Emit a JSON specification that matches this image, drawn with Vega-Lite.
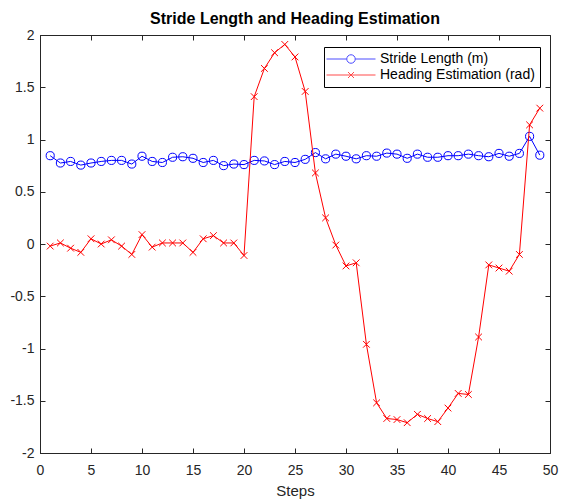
{
  "$schema": "https://vega.github.io/schema/vega-lite/v6.json",
  "width": 510,
  "height": 418,
  "autosize": {"type": "none"},
  "padding": {"left": 40, "top": 35, "right": 13, "bottom": 47},
  "background": "white",
  "title": {"text": "Stride Length and Heading Estimation", "font": "Liberation Sans", "fontSize": 16, "fontWeight": "bold", "color": "#000000", "anchor": "middle", "offset": 1},
  "config": {
    "locale": {"number": {"decimal": ".", "thousands": ",", "grouping": [3], "currency": ["$", ""], "minus": "-"}},
    "view": {"stroke": "#262626", "strokeWidth": 1},
    "axis": {"grid": false, "labelFont": "Liberation Sans", "labelFontSize": 14, "labelColor": "#262626", "tickColor": "#262626", "domainColor": "#262626", "tickSize": -5, "titleFont": "Liberation Sans", "titleFontSize": 15, "titleColor": "#262626", "titleFontWeight": "normal", "format": "~g"},
    "legend": {"labelFont": "Liberation Sans", "labelFontSize": 14, "labelColor": "#000000"}
  },
  "datasets": {
    "d": [
      {"step": 1, "series": "Stride Length (m)", "value": 0.845},
      {"step": 2, "series": "Stride Length (m)", "value": 0.775},
      {"step": 3, "series": "Stride Length (m)", "value": 0.79},
      {"step": 4, "series": "Stride Length (m)", "value": 0.755},
      {"step": 5, "series": "Stride Length (m)", "value": 0.775},
      {"step": 6, "series": "Stride Length (m)", "value": 0.79},
      {"step": 7, "series": "Stride Length (m)", "value": 0.80},
      {"step": 8, "series": "Stride Length (m)", "value": 0.80},
      {"step": 9, "series": "Stride Length (m)", "value": 0.765},
      {"step": 10, "series": "Stride Length (m)", "value": 0.84},
      {"step": 11, "series": "Stride Length (m)", "value": 0.79},
      {"step": 12, "series": "Stride Length (m)", "value": 0.78},
      {"step": 13, "series": "Stride Length (m)", "value": 0.83},
      {"step": 14, "series": "Stride Length (m)", "value": 0.835},
      {"step": 15, "series": "Stride Length (m)", "value": 0.82},
      {"step": 16, "series": "Stride Length (m)", "value": 0.78},
      {"step": 17, "series": "Stride Length (m)", "value": 0.80},
      {"step": 18, "series": "Stride Length (m)", "value": 0.75},
      {"step": 19, "series": "Stride Length (m)", "value": 0.765},
      {"step": 20, "series": "Stride Length (m)", "value": 0.76},
      {"step": 21, "series": "Stride Length (m)", "value": 0.80},
      {"step": 22, "series": "Stride Length (m)", "value": 0.795},
      {"step": 23, "series": "Stride Length (m)", "value": 0.76},
      {"step": 24, "series": "Stride Length (m)", "value": 0.79},
      {"step": 25, "series": "Stride Length (m)", "value": 0.78},
      {"step": 26, "series": "Stride Length (m)", "value": 0.81},
      {"step": 27, "series": "Stride Length (m)", "value": 0.875},
      {"step": 28, "series": "Stride Length (m)", "value": 0.815},
      {"step": 29, "series": "Stride Length (m)", "value": 0.86},
      {"step": 30, "series": "Stride Length (m)", "value": 0.84},
      {"step": 31, "series": "Stride Length (m)", "value": 0.815},
      {"step": 32, "series": "Stride Length (m)", "value": 0.845},
      {"step": 33, "series": "Stride Length (m)", "value": 0.84},
      {"step": 34, "series": "Stride Length (m)", "value": 0.87},
      {"step": 35, "series": "Stride Length (m)", "value": 0.86},
      {"step": 36, "series": "Stride Length (m)", "value": 0.82},
      {"step": 37, "series": "Stride Length (m)", "value": 0.86},
      {"step": 38, "series": "Stride Length (m)", "value": 0.83},
      {"step": 39, "series": "Stride Length (m)", "value": 0.83},
      {"step": 40, "series": "Stride Length (m)", "value": 0.845},
      {"step": 41, "series": "Stride Length (m)", "value": 0.845},
      {"step": 42, "series": "Stride Length (m)", "value": 0.86},
      {"step": 43, "series": "Stride Length (m)", "value": 0.845},
      {"step": 44, "series": "Stride Length (m)", "value": 0.835},
      {"step": 45, "series": "Stride Length (m)", "value": 0.867},
      {"step": 46, "series": "Stride Length (m)", "value": 0.84},
      {"step": 47, "series": "Stride Length (m)", "value": 0.867},
      {"step": 48, "series": "Stride Length (m)", "value": 1.03},
      {"step": 49, "series": "Stride Length (m)", "value": 0.85},
      {"step": 1, "series": "Heading Estimation (rad)", "value": -0.02},
      {"step": 2, "series": "Heading Estimation (rad)", "value": 0.01},
      {"step": 3, "series": "Heading Estimation (rad)", "value": -0.04},
      {"step": 4, "series": "Heading Estimation (rad)", "value": -0.08},
      {"step": 5, "series": "Heading Estimation (rad)", "value": 0.05},
      {"step": 6, "series": "Heading Estimation (rad)", "value": 0.0},
      {"step": 7, "series": "Heading Estimation (rad)", "value": 0.04},
      {"step": 8, "series": "Heading Estimation (rad)", "value": -0.02},
      {"step": 9, "series": "Heading Estimation (rad)", "value": -0.10},
      {"step": 10, "series": "Heading Estimation (rad)", "value": 0.09},
      {"step": 11, "series": "Heading Estimation (rad)", "value": -0.03},
      {"step": 12, "series": "Heading Estimation (rad)", "value": 0.01},
      {"step": 13, "series": "Heading Estimation (rad)", "value": 0.01},
      {"step": 14, "series": "Heading Estimation (rad)", "value": 0.01},
      {"step": 15, "series": "Heading Estimation (rad)", "value": -0.08},
      {"step": 16, "series": "Heading Estimation (rad)", "value": 0.05},
      {"step": 17, "series": "Heading Estimation (rad)", "value": 0.08},
      {"step": 18, "series": "Heading Estimation (rad)", "value": 0.01},
      {"step": 19, "series": "Heading Estimation (rad)", "value": 0.01},
      {"step": 20, "series": "Heading Estimation (rad)", "value": -0.11},
      {"step": 21, "series": "Heading Estimation (rad)", "value": 1.41},
      {"step": 22, "series": "Heading Estimation (rad)", "value": 1.68},
      {"step": 23, "series": "Heading Estimation (rad)", "value": 1.83},
      {"step": 24, "series": "Heading Estimation (rad)", "value": 1.91},
      {"step": 25, "series": "Heading Estimation (rad)", "value": 1.79},
      {"step": 26, "series": "Heading Estimation (rad)", "value": 1.46},
      {"step": 27, "series": "Heading Estimation (rad)", "value": 0.68},
      {"step": 28, "series": "Heading Estimation (rad)", "value": 0.25},
      {"step": 29, "series": "Heading Estimation (rad)", "value": -0.01},
      {"step": 30, "series": "Heading Estimation (rad)", "value": -0.21},
      {"step": 31, "series": "Heading Estimation (rad)", "value": -0.18},
      {"step": 32, "series": "Heading Estimation (rad)", "value": -0.96},
      {"step": 33, "series": "Heading Estimation (rad)", "value": -1.52},
      {"step": 34, "series": "Heading Estimation (rad)", "value": -1.67},
      {"step": 35, "series": "Heading Estimation (rad)", "value": -1.68},
      {"step": 36, "series": "Heading Estimation (rad)", "value": -1.71},
      {"step": 37, "series": "Heading Estimation (rad)", "value": -1.63},
      {"step": 38, "series": "Heading Estimation (rad)", "value": -1.67},
      {"step": 39, "series": "Heading Estimation (rad)", "value": -1.70},
      {"step": 40, "series": "Heading Estimation (rad)", "value": -1.57},
      {"step": 41, "series": "Heading Estimation (rad)", "value": -1.43},
      {"step": 42, "series": "Heading Estimation (rad)", "value": -1.44},
      {"step": 43, "series": "Heading Estimation (rad)", "value": -0.89},
      {"step": 44, "series": "Heading Estimation (rad)", "value": -0.20},
      {"step": 45, "series": "Heading Estimation (rad)", "value": -0.23},
      {"step": 46, "series": "Heading Estimation (rad)", "value": -0.26},
      {"step": 47, "series": "Heading Estimation (rad)", "value": -0.10},
      {"step": 48, "series": "Heading Estimation (rad)", "value": 1.14},
      {"step": 49, "series": "Heading Estimation (rad)", "value": 1.30}
    ]
  },
  "data": {"name": "d"},
  "resolve": {"axis": {"x": "independent", "y": "independent"}},
  "layer": [
    {
      "transform": [{"filter": "datum.series === 'Stride Length (m)'"}],
      "mark": {"type": "line", "color": "#0000ff", "strokeWidth": 1, "point": {"filled": false, "shape": "circle", "size": 66, "strokeWidth": 1, "color": "#0000ff"}},
      "encoding": {
        "x": {"field": "step", "type": "quantitative", "scale": {"domain": [0, 50], "nice": false, "zero": false}, "axis": {"title": "Steps", "values": [0, 5, 10, 15, 20, 25, 30, 35, 40, 45, 50], "labelPadding": 15, "titlePadding": 6, "labelFlush": false}},
        "y": {"field": "value", "type": "quantitative", "scale": {"domain": [-2, 2], "nice": false}, "axis": {"title": null, "values": [-2, -1.5, -1, -0.5, 0, 0.5, 1, 1.5, 2], "labelPadding": 11, "labelFlush": false}}
      }
    },
    {
      "transform": [{"filter": "datum.series === 'Heading Estimation (rad)'"}],
      "mark": {"type": "line", "color": "#ff0000", "strokeWidth": 1, "point": {"filled": false, "shape": "M-1,-1L1,1M-1,1L1,-1", "size": 45, "strokeWidth": 1, "color": "#ff0000"}},
      "encoding": {
        "x": {"field": "step", "type": "quantitative", "axis": null},
        "y": {"field": "value", "type": "quantitative", "axis": null}
      }
    },
    {
      "transform": [{"filter": "false"}],
      "mark": {"type": "point", "filled": false, "strokeWidth": 1},
      "encoding": {
        "x": {"field": "step", "type": "quantitative", "axis": {"orient": "top", "labels": false, "title": null, "domain": false, "values": [0, 5, 10, 15, 20, 25, 30, 35, 40, 45, 50]}},
        "y": {"field": "value", "type": "quantitative", "axis": {"orient": "right", "labels": false, "title": null, "domain": false, "values": [-2, -1.5, -1, -0.5, 0, 0.5, 1, 1.5, 2]}},
        "color": {"field": "series", "type": "nominal", "scale": {"domain": ["Stride Length (m)", "Heading Estimation (rad)"], "range": ["#0000ff", "#ff0000"]}, "legend": {"title": null, "orient": "none", "legendX": 284, "legendY": 12, "strokeColor": "#000000", "fillColor": "#ffffff", "padding": 5, "symbolSize": 100, "symbolOffset": 15, "labelOffset": 22, "symbolStrokeWidth": 1, "rowPadding": 2}},
        "shape": {"field": "series", "type": "nominal", "scale": {"domain": ["Stride Length (m)", "Heading Estimation (rad)"], "range": ["M-4.9,0H-0.85M0.85,0A0.85,0.85 0 1,1 -0.85,0A0.85,0.85 0 1,1 0.85,0M0.85,0H4.9", "M-4.9,0H4.9M-0.6,-0.6L0.6,0.6M-0.6,0.6L0.6,-0.6"]}, "legend": {"title": null, "orient": "none", "legendX": 284, "legendY": 12, "strokeColor": "#000000", "fillColor": "#ffffff", "padding": 5, "symbolSize": 100, "symbolOffset": 15, "labelOffset": 22, "symbolStrokeWidth": 1, "rowPadding": 2}}
      }
    }
  ]
}
